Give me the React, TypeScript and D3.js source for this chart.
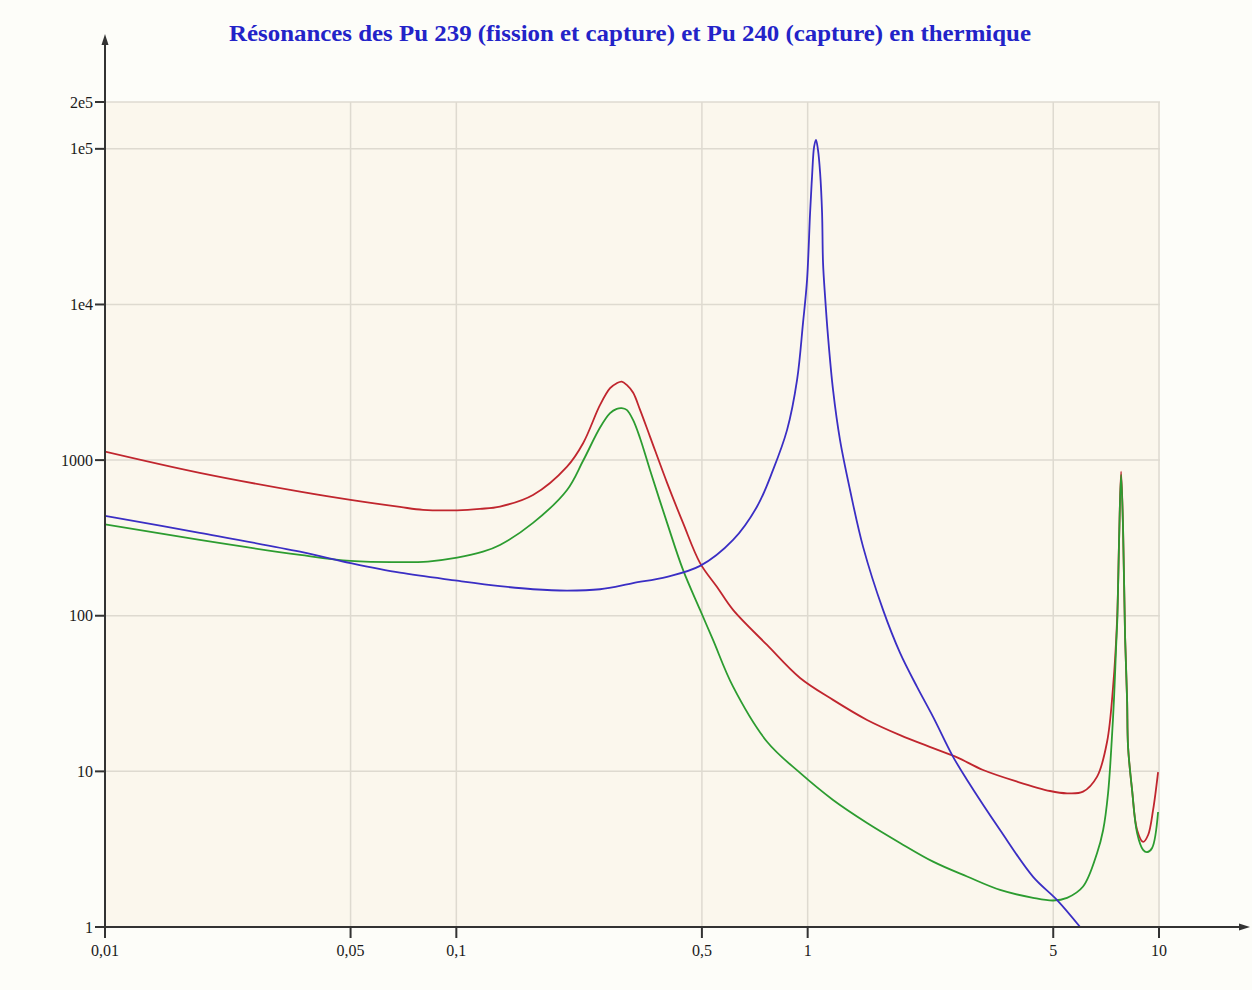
// Courbes de résonance Pu 239 / Pu 240 en échelle log-log, dessinées avec d3
import React, { useRef, useEffect } from 'react';
import * as d3 from 'd3';

// titre du graphique
const chartTitle = "Résonances des Pu 239 (fission et capture) et Pu 240 (capture) en thermique";

// graduations de l'axe x (énergie, eV) et leurs libellés
const xTickValues = [0.01, 0.05, 0.1, 0.5, 1, 5, 10];
const xTickLabels = ["0,01", "0,05", "0,1", "0,5", "1", "5", "10"];

// graduations de l'axe y (section efficace) et leurs libellés
const yTickValues = [1, 10, 100, 1000, 1e4, 1e5, 2e5];
const yTickLabels = ["1", "10", "100", "1000", "1e4", "1e5", "2e5"];

// courbe rouge : Pu 239 fission
const redEnergy = [0.01, 0.0186, 0.0359, 0.05, 0.0691, 0.0804, 0.1005, 0.1168, 0.1331, 0.1653, 0.2066, 0.2295, 0.2565, 0.2739, 0.2862, 0.2957, 0.3055, 0.3184, 0.3334, 0.3558, 0.398, 0.4418, 0.4941, 0.5522, 0.6133, 0.7663, 0.9515, 1.181, 1.476, 1.832, 2.275, 2.663, 3.158, 3.946, 4.898, 5.475, 6.079, 6.665, 7.116, 7.402, 7.598, 7.698, 7.8, 7.903, 8.007, 8.113, 8.166, 8.382, 8.663, 9.01, 9.311, 9.62, 9.94];
const redSigma = [1134, 828, 627, 555, 500, 479, 476, 486, 503, 597, 908, 1284, 2263, 2897, 3121, 3195, 3043, 2717, 2102, 1416, 714, 395, 218, 153, 109, 64.9, 39.8, 28.8, 21.4, 17.1, 14.1, 12.3, 10.2, 8.59, 7.48, 7.23, 7.41, 9.25, 15.5, 35, 94, 307, 844, 356, 73.1, 28.8, 14.3, 7.6, 4.2, 3.52, 3.9, 5.65, 9.9];

// courbe verte : Pu 239 capture
const greenEnergy = [0.01, 0.0186, 0.0359, 0.05, 0.0691, 0.083, 0.1005, 0.1191, 0.1331, 0.1653, 0.2066, 0.2295, 0.2565, 0.2739, 0.2862, 0.2957, 0.3055, 0.3184, 0.3334, 0.3558, 0.398, 0.4418, 0.4941, 0.5378, 0.6133, 0.7663, 0.9515, 1.181, 1.476, 1.832, 2.275, 2.843, 3.529, 4.382, 4.995, 5.475, 6.079, 6.665, 6.935, 7.163, 7.338, 7.45, 7.549, 7.614, 7.698, 7.8, 7.903, 8.007, 8.113, 8.166, 8.382, 8.663, 9.01, 9.249, 9.558, 9.94];
const greenSigma = [387, 307, 246, 225, 221, 223, 236, 258, 285, 395, 643, 990, 1620, 2002, 2133, 2155, 2102, 1813, 1383, 865, 395, 197, 109, 69.9, 35, 15.5, 9.77, 6.55, 4.66, 3.47, 2.63, 2.11, 1.73, 1.54, 1.48, 1.54, 1.82, 2.99, 4.2, 7.26, 15.9, 30.1, 63, 98.2, 307, 803, 356, 73.1, 28.8, 14.3, 7.6, 4.02, 3.13, 3.03, 3.22, 5.48];

// courbe bleue : Pu 240 capture
const blueEnergy = [0.01, 0.0186, 0.0359, 0.05, 0.0691, 0.1005, 0.1331, 0.1653, 0.2066, 0.2565, 0.3184, 0.398, 0.4941, 0.6133, 0.7178, 0.797, 0.8738, 0.9329, 0.97, 0.996, 1.016, 1.029, 1.043, 1.056, 1.07, 1.085, 1.099, 1.106, 1.121, 1.143, 1.181, 1.236, 1.32, 1.438, 1.639, 1.832, 2.048, 2.275, 2.594, 2.843, 3.529, 4.382, 5.129, 5.963];
const blueSigma = [438, 341, 258, 218, 189, 168, 155, 148, 145, 148, 162, 178, 209, 307, 503, 865, 1564, 3277, 7613, 14390, 38790, 66090, 103000, 114250, 98540, 70120, 38790, 18510, 11190, 6190, 2826, 1348, 643, 277, 109, 57.7, 34.9, 22.4, 12.4, 8.81, 4.2, 2.1, 1.49, 1.0];

const App = () => {
  const ref = useRef<SVGSVGElement>(null);

  useEffect(() => {
    const svg = d3.select(ref.current);
    svg.selectAll("*").remove();

    // zone de tracé
    const left = 105, right = 1159, top = 102, bottom = 927;
    const plotRight = 1160;

    const xScale = d3.scaleLog().domain([0.01, 10]).range([left, right]);
    const yScale = d3.scaleLog().domain([1, 2e5]).range([bottom, top]);

    // fond de page
    svg.append("rect")
      .attr("width", 1252).attr("height", 990)
      .attr("fill", "#fdfdf9");

    // fond crème de la zone de tracé
    svg.append("rect")
      .attr("x", left).attr("y", top)
      .attr("width", plotRight - left).attr("height", bottom - top)
      .attr("fill", "#fbf7ed");

    // grille verticale
    svg.append("g").selectAll("line")
      .data(xTickValues.slice(1))
      .enter().append("line")
      .attr("x1", d => xScale(d)).attr("x2", d => xScale(d))
      .attr("y1", top).attr("y2", bottom)
      .attr("stroke", "#dedad0").attr("stroke-width", 1.5);

    // grille horizontale
    svg.append("g").selectAll("line")
      .data(yTickValues.slice(1))
      .enter().append("line")
      .attr("x1", left).attr("x2", plotRight)
      .attr("y1", d => yScale(d)).attr("y2", d => yScale(d))
      .attr("stroke", "#dedad0").attr("stroke-width", 1.5);

    // découpage pour que les courbes restent dans la zone
    svg.append("clipPath").attr("id", "plotClip")
      .append("rect")
      .attr("x", left).attr("y", top - 10)
      .attr("width", plotRight - left).attr("height", bottom - top + 10);

    const line = d3.line<[number, number]>()
      .x(d => xScale(d[0]))
      .y(d => yScale(d[1]))
      .curve(d3.curveCatmullRom.alpha(0.5));

    const series = [
      { e: redEnergy, s: redSigma, color: "#c0262e" },
      { e: greenEnergy, s: greenSigma, color: "#2c9c30" },
      { e: blueEnergy, s: blueSigma, color: "#3a2ec4" },
    ];

    const curves = svg.append("g").attr("clip-path", "url(#plotClip)");
    series.forEach(sr => {
      const pts = sr.e.map((e, i) => [e, sr.s[i]] as [number, number]);
      curves.append("path")
        .attr("d", line(pts))
        .attr("fill", "none")
        .attr("stroke", sr.color)
        .attr("stroke-width", 1.8)
        .attr("stroke-linejoin", "round");
    });

    // axes avec flèches
    const axisColor = "#333";
    svg.append("line")
      .attr("x1", left).attr("x2", left)
      .attr("y1", bottom).attr("y2", 40)
      .attr("stroke", axisColor).attr("stroke-width", 2);
    svg.append("path")
      .attr("d", `M${left},34 L${left - 3.5},45 L${left + 3.5},45 Z`)
      .attr("fill", axisColor);
    svg.append("line")
      .attr("x1", left).attr("x2", 1244)
      .attr("y1", bottom).attr("y2", bottom)
      .attr("stroke", axisColor).attr("stroke-width", 2);
    svg.append("path")
      .attr("d", `M1250,${bottom} L1239,${bottom - 3.5} L1239,${bottom + 3.5} Z`)
      .attr("fill", axisColor);

    // graduations x
    const xt = svg.append("g").selectAll("g")
      .data(xTickValues)
      .enter().append("g")
      .attr("transform", d => `translate(${xScale(d)},${bottom})`);
    xt.append("line")
      .attr("y1", 0).attr("y2", 11)
      .attr("stroke", axisColor).attr("stroke-width", 2);
    xt.append("text")
      .attr("y", 29)
      .attr("text-anchor", "middle")
      .attr("font-family", "'Liberation Serif', 'Times New Roman', serif")
      .attr("font-size", 16)
      .attr("fill", "#1a1a1a")
      .text((d, i) => xTickLabels[i]);

    // graduations y
    const yt = svg.append("g").selectAll("g")
      .data(yTickValues)
      .enter().append("g")
      .attr("transform", d => `translate(${left},${yScale(d)})`);
    yt.append("line")
      .attr("x1", -10).attr("x2", 0)
      .attr("stroke", axisColor).attr("stroke-width", 2);
    yt.append("text")
      .attr("x", -12)
      .attr("dy", "0.35em")
      .attr("text-anchor", "end")
      .attr("font-family", "'Liberation Serif', 'Times New Roman', serif")
      .attr("font-size", 16)
      .attr("fill", "#1a1a1a")
      .text((d, i) => yTickLabels[i]);

    // titre
    svg.append("text")
      .attr("x", 630).attr("y", 41)
      .attr("text-anchor", "middle")
      .attr("font-family", "'Liberation Serif', 'Times New Roman', serif")
      .attr("font-weight", "bold")
      .attr("font-size", 23)
      .attr("textLength", 802)
      .attr("lengthAdjust", "spacingAndGlyphs")
      .attr("fill", "#2323c8")
      .text(chartTitle);
  }, []);

  return <svg ref={ref} width="1252" height="990" style={{ position: 'absolute', left: 0, top: 0, display: 'block' }}></svg>;
};

export default App;
